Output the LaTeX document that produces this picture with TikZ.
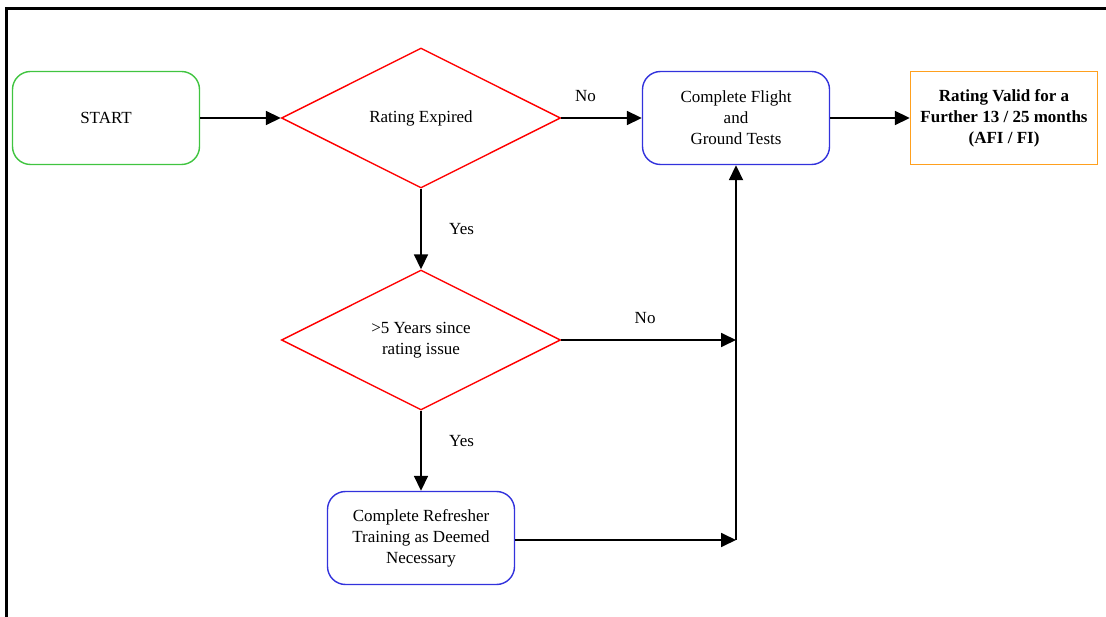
\documentclass[tikz,border=0pt]{standalone}
\usepackage{fontspec}
\setmainfont{Liberation Serif}
\usetikzlibrary{shapes.geometric,arrows.meta}
\definecolor{startgreen}{RGB}{64,196,64}
\definecolor{stepblue}{RGB}{50,50,220}
\definecolor{validorange}{RGB}{255,160,30}
\begin{document}
\begin{tikzpicture}[x=1pt, y=-1pt, font=\fontsize{17}{21}\selectfont,
    box/.style = {rectangle, rounded corners=18pt, line width=1.4pt, minimum width=187pt, minimum height=93pt, align=center, inner sep=2pt},
    start/.style = {box, draw=startgreen},
    process/.style = {box, draw=stepblue},
    result/.style = {rectangle, draw=validorange, line width=1.4pt, minimum width=187pt, minimum height=93pt, align=center, font=\fontsize{17}{21}\selectfont\bfseries},
    decision/.style = {diamond, draw=red, line width=1.4pt, minimum width=279pt, minimum height=140pt, inner sep=0pt, align=center},
    flow/.style = {line width=1.8pt, -{Triangle[length=15pt, width=14pt]}}]
    \useasboundingbox (0,0) rectangle (1106,617);
    \draw[line width=3pt] (1110,9) -- (6,9) -- (6,625);
    \node [start] (start) at (106,118) {START};
    \node [decision] (expired) at (421,118) {Rating Expired};
    \node [process] (tests) at (736,118) {Complete Flight\\and\\Ground Tests};
    \node [result] (valid) at (1004,118) {Rating Valid for a\\Further 13 / 25 months\\(AFI / FI)};
    \node [decision] (years) at (421,340) {>5 Years since\\rating issue};
    \node [process] (refresher) at (421,538) {Complete Refresher\\Training as Deemed\\Necessary};
    \coordinate (join) at (736,540);
    \draw [flow] (start) -- (expired);
    \draw [flow] (expired) -- node [pos=0.3, above=12pt] (no1) {No} (tests);
    \draw [flow] (tests) -- (valid);
    \draw [flow] (expired) -- node [right=24pt, pos=0.5] (yes1) {Yes} (years);
    \draw [flow] (years) -- node [above=12pt, pos=0.48] (no2) {No} (years.east -| join);
    \draw [flow] (years) -- node [right=24pt, pos=0.38] (yes2) {Yes} (refresher);
    \draw [flow] (refresher.east |- join) -- (join);
    \draw [flow] (join) -- (tests);
\end{tikzpicture}
\end{document}
